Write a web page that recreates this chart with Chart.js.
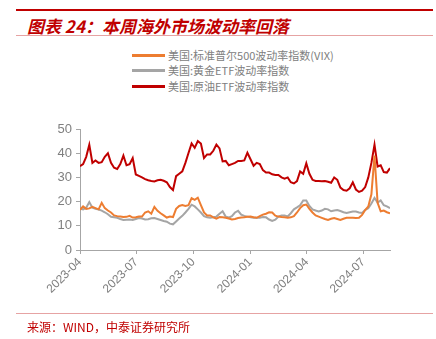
<!DOCTYPE html>
<html>
<head>
<meta charset="utf-8">
<script src="https://cdn.jsdelivr.net/npm/chart.js"></script>
<style>
  html, body { margin: 0; padding: 0; background: #fff; }
  body { width: 436px; height: 339px; position: relative; overflow: hidden; font-family: "Noto Sans CJK SC", sans-serif; }
  #chart { position: absolute; left: 0; top: 0; }
  .rule { position: absolute; left: 16px; width: 417px; }
  #title { position: absolute; left: 27px; top: 13px; font-size: 17px; font-weight: bold; font-style: italic; color: #c00000; white-space: nowrap; }
  #source { position: absolute; left: 27px; top: 318px; font-size: 12px; color: #c00000; white-space: nowrap; }
  .leg { position: absolute; left: 132px; height: 14px; white-space: nowrap; font-size: 11px; color: #808080; }
  .leg span.sw { position: absolute; left: 0; top: 6px; width: 33px; height: 3px; }
  .leg span.tx { position: absolute; left: 36px; top: -1px; }
</style>
</head>
<body>
<div class="rule" style="top:9px;height:2px;background:#c00000"></div>
<div id="title">图表 24：本周海外市场波动率回落</div>
<div class="rule" style="top:35px;height:1px;background:#e6a3a3"></div>
<div id="legend"></div>
<canvas id="chart" width="436" height="339"></canvas>
<div class="rule" style="top:313px;height:1px;background:#e6a3a3"></div>
<div id="source">来源：WIND，中泰证券研究所</div>
<script>
// 图例与颜色
var seriesNames = ["美国:标准普尔500波动率指数(VIX)", "美国:黄金ETF波动率指数", "美国:原油ETF波动率指数"];
var seriesColors = ["#ed7d31", "#a5a5a5", "#c00000"];

// 日期(每5天取一个点)
var dates = [
  "2023-04-19","2023-04-24","2023-04-29","2023-05-04","2023-05-09","2023-05-14","2023-05-19","2023-05-24","2023-05-29","2023-06-03",
  "2023-06-08","2023-06-13","2023-06-18","2023-06-23","2023-06-28","2023-07-03","2023-07-08","2023-07-13","2023-07-18","2023-07-23",
  "2023-07-28","2023-08-02","2023-08-07","2023-08-12","2023-08-17","2023-08-22","2023-08-27","2023-09-01","2023-09-06","2023-09-11",
  "2023-09-16","2023-09-21","2023-09-26","2023-10-01","2023-10-06","2023-10-11","2023-10-16","2023-10-21","2023-10-26","2023-10-31",
  "2023-11-05","2023-11-10","2023-11-15","2023-11-20","2023-11-25","2023-11-30","2023-12-05","2023-12-10","2023-12-15","2023-12-20",
  "2023-12-25","2023-12-30","2024-01-04","2024-01-09","2024-01-14","2024-01-19","2024-01-24","2024-01-29","2024-02-03","2024-02-08",
  "2024-02-13","2024-02-18","2024-02-23","2024-02-28","2024-03-04","2024-03-09","2024-03-14","2024-03-19","2024-03-24","2024-03-29",
  "2024-04-03","2024-04-08","2024-04-13","2024-04-18","2024-04-23","2024-04-28","2024-05-03","2024-05-08","2024-05-13","2024-05-18",
  "2024-05-23","2024-05-28","2024-06-02","2024-06-07","2024-06-12","2024-06-17","2024-06-22","2024-06-27","2024-07-02","2024-07-07",
  "2024-07-12","2024-07-17","2024-07-22","2024-07-27","2024-08-01","2024-08-06","2024-08-11","2024-08-16","2024-08-21","2024-08-26",
  "2024-08-31"
];

// 美国:标准普尔500波动率指数(VIX)
var vix = [
  16.6,18.0,17.0,17.2,17.8,17.3,16.8,19.5,17.3,16.3,
  15.5,14.3,14.0,13.8,13.6,13.7,14.1,13.4,13.5,13.8,
  13.8,15.5,16.0,15.0,17.8,16.2,15.2,14.3,13.4,13.8,
  13.6,17.0,18.2,18.6,18.2,18.5,21.4,20.7,21.6,18.5,
  15.5,14.3,14.3,13.5,13.0,13.6,13.5,13.3,13.0,12.6,
  12.8,13.2,13.4,13.5,13.7,13.8,13.5,13.3,14.0,14.6,
  15.0,15.6,15.5,14.2,13.8,13.6,13.5,13.3,13.5,14.0,
  15.5,17.3,18.5,18.8,17.0,15.5,14.3,13.8,13.3,12.8,
  12.4,12.9,13.2,12.8,12.4,12.9,13.3,13.3,13.3,13.2,
  13.3,14.5,16.5,18.0,23.0,39.0,19.5,16.0,16.3,15.6,
  15.2
];

// 美国:黄金ETF波动率指数
var gold = [
  17.0,16.8,17.5,19.8,17.5,17.0,16.7,16.3,15.6,14.8,
  13.7,13.5,13.3,12.8,12.4,12.5,12.6,12.4,12.8,13.2,
  13.0,12.6,12.7,13.1,13.2,12.8,12.4,12.0,11.7,10.9,
  10.6,11.8,13.0,14.1,15.5,17.0,18.7,18.0,16.8,15.5,
  14.0,13.5,13.3,13.5,13.8,15.0,16.0,13.8,13.4,14.0,
  15.5,16.2,14.6,14.1,13.8,13.5,13.3,13.3,13.3,13.6,
  13.5,12.6,12.0,12.5,13.8,14.3,14.3,13.9,15.2,16.8,
  17.6,18.5,20.5,20.5,18.2,16.8,16.3,15.9,16.3,17.0,
  16.8,16.0,16.3,16.5,16.1,15.6,15.3,15.6,15.9,15.9,
  15.5,15.3,16.6,17.3,19.2,21.5,19.6,20.5,18.5,18.0,
  17.3
];

// 美国:原油ETF波动率指数
var oil = [
  34.6,35.5,38.5,43.5,36.0,37.0,36.0,36.3,38.5,40.0,
  36.0,34.0,33.5,35.5,39.0,35.0,35.5,38.0,31.2,30.6,
  30.0,29.3,28.8,28.5,28.3,28.8,29.0,28.6,28.0,26.0,
  24.8,30.5,31.5,32.5,36.0,40.1,44.0,42.2,45.0,44.0,
  38.0,39.5,39.5,41.0,43.6,42.0,36.6,36.8,35.0,35.5,
  36.0,36.8,36.8,37.0,40.2,37.5,34.8,36.0,35.5,33.0,
  32.0,32.0,31.3,31.0,31.0,30.0,29.5,30.0,28.0,27.5,
  28.5,32.5,31.5,35.8,31.5,29.0,28.5,28.5,28.4,28.5,
  28.2,27.8,30.0,29.0,25.8,24.8,24.5,25.5,28.0,25.0,
  24.0,24.5,26.0,30.0,36.0,43.5,34.5,35.0,32.2,32.0,
  33.8
];

// x轴刻度(每季度)
var tickDates = ["2023-04-19", "2023-07-19", "2023-10-19", "2024-01-19", "2024-04-19", "2024-07-19"];
var yTicks = [0, 10, 20, 30, 40, 50];

var DAY = 86400000;
var t0 = Date.parse(dates[0]);
function dayOf(s) { return Math.round((Date.parse(s) - t0) / DAY); }
function toPoints(vals) {
  return vals.map(function (v, i) { return { x: dayOf(dates[i]), y: v }; });
}

// 图例
var legendBox = document.getElementById("legend");
var legTops = [48, 63, 79];
seriesNames.forEach(function (name, i) {
  var d = document.createElement("div");
  d.className = "leg";
  d.style.top = legTops[i] + "px";
  d.innerHTML = '<span class="sw" style="background:' + seriesColors[i] + '"></span><span class="tx">' + name + '</span>';
  legendBox.appendChild(d);
});

var axisGray = "#a6a6a6";
var labelGray = "#7f7f7f";

var chart = new Chart(document.getElementById("chart"), {
  type: "line",
  data: {
    datasets: [
      { label: seriesNames[0], data: toPoints(vix), borderColor: seriesColors[0], borderWidth: 2, pointRadius: 0, tension: 0 },
      { label: seriesNames[1], data: toPoints(gold), borderColor: seriesColors[1], borderWidth: 2, pointRadius: 0, tension: 0 },
      { label: seriesNames[2], data: toPoints(oil), borderColor: seriesColors[2], borderWidth: 2, pointRadius: 0, tension: 0 }
    ]
  },
  options: {
    responsive: false,
    animation: false,
    devicePixelRatio: 1,
    layout: { padding: { left: 0, top: 129, right: 46, bottom: 0 } },
    plugins: {
      legend: { display: false },
      tooltip: { enabled: false }
    },
    scales: {
      x: {
        type: "linear",
        min: 0,
        max: dayOf(dates[dates.length - 1]),
        afterBuildTicks: function (scale) {
          scale.ticks = tickDates.map(function (s) { return { value: dayOf(s) }; });
        },
        afterFit: function (scale) { scale.height = 89; },
        ticks: {
          autoSkip: false,
          minRotation: 45,
          maxRotation: 45,
          color: labelGray,
          font: { family: "Liberation Sans", size: 12 },
          padding: 1,
          callback: function (value) {
            var d = new Date(t0 + value * DAY);
            var m = d.getUTCMonth() + 1;
            return d.getUTCFullYear() + "-" + (m < 10 ? "0" + m : m);
          }
        },
        grid: { drawOnChartArea: false, drawTicks: true, tickLength: 4, color: axisGray },
        border: { color: axisGray, width: 1 }
      },
      y: {
        min: 0,
        max: 50,
        afterBuildTicks: function (scale) {
          scale.ticks = yTicks.map(function (v) { return { value: v }; });
        },
        afterFit: function (scale) { scale.width = 80; },
        ticks: {
          color: labelGray,
          font: { family: "Liberation Sans", size: 13 },
          padding: 4
        },
        grid: { drawOnChartArea: false, drawTicks: true, tickLength: 4, color: axisGray },
        border: { color: axisGray, width: 1 }
      }
    }
  }
});
</script>
</body>
</html>
